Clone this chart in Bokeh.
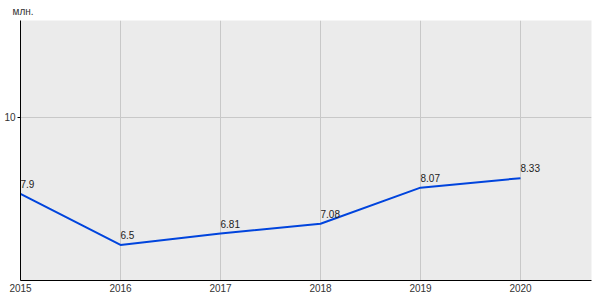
from bokeh.plotting import figure
from bokeh.models import FixedTicker, Range1d, ColumnDataSource
from bokeh.embed import file_html
from bokeh.resources import INLINE
from bokeh.core.properties import value

years = [2015, 2016, 2017, 2018, 2019, 2020]
values = [7.9, 6.5, 6.81, 7.08, 8.07, 8.33]
labels = ["7.9", "6.5", "6.81", "7.08", "8.07", "8.33"]
y_ticks = [10]
unit = "млн."

FONT = "Liberation Sans"

p = figure(width=600, height=300, output_backend="svg", toolbar_location=None,
           x_range=Range1d(2015, 2020.71), y_range=Range1d(5.525, 12.65),
           min_border_left=20, min_border_right=9, min_border_top=20, min_border_bottom=20,
           title=unit)
p.title.text_font = FONT
p.title.text_font_size = "10px"
p.title.text_font_style = "normal"
p.title.text_color = "#333333"
p.title.align = "left"
p.title.offset = -8
p.title.standoff = 7
p.border_fill_color = "white"
p.outline_line_color = None
p.background_fill_color = "#ebebeb"

p.xaxis.ticker = FixedTicker(ticks=years)
p.yaxis.ticker = FixedTicker(ticks=y_ticks)
p.xaxis.major_tick_line_color = None
p.xaxis.minor_tick_line_color = None
p.yaxis.minor_tick_line_color = None
p.yaxis.major_tick_out = 3
p.yaxis.major_tick_in = 0
p.xaxis.major_tick_out = 0
p.xaxis.major_tick_in = 0
for ax in (p.xaxis[0], p.yaxis[0]):
    ax.axis_line_color = "black"
    ax.axis_line_width = 1
    ax.major_label_text_font = FONT
    ax.major_label_text_font_size = "10px"
    ax.major_label_text_color = "#333333"
p.xaxis.major_label_text_align = "left"
p.xaxis.major_label_standoff = 3
p.yaxis.major_label_standoff = 2

p.xgrid.ticker = FixedTicker(ticks=years)
p.ygrid.ticker = FixedTicker(ticks=y_ticks)
p.grid.grid_line_color = "#c8c8c8"
p.grid.grid_line_width = 1

src = ColumnDataSource(dict(x=years, y=values, t=labels))
p.line("x", "y", source=src, line_color="#0044dd", line_width=2)
p.text("x", "y", text="t", source=src, text_font=value(FONT), text_font_size="10px",
       text_color="#222222", text_align="left", text_baseline="bottom", y_offset=-6)

open("out.html", "w").write(file_html(p, INLINE))
